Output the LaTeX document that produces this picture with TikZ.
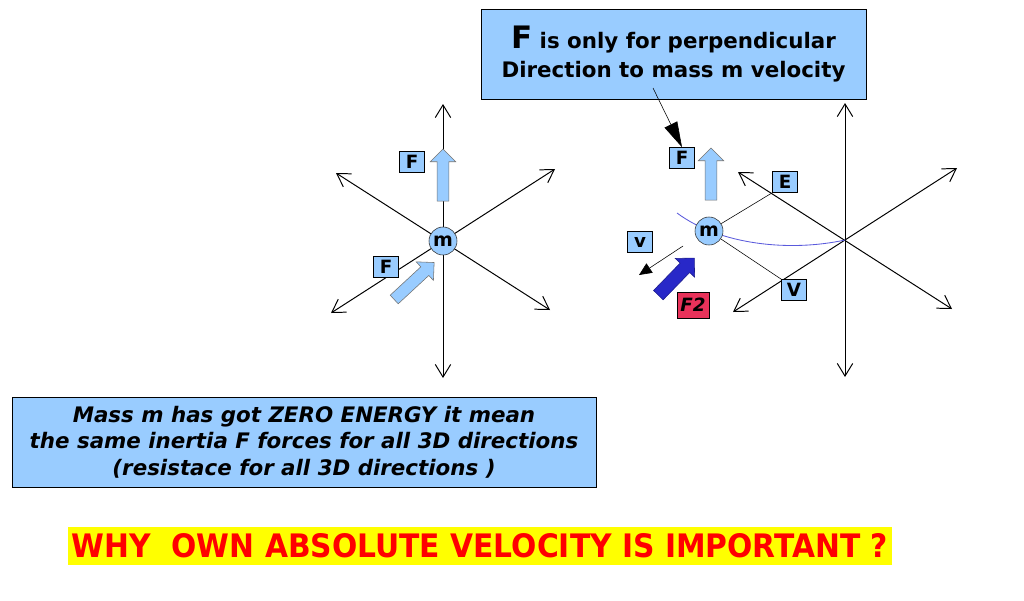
\documentclass[tikz,border=0pt]{standalone}
\usepackage{fontspec}
\setmainfont{DejaVu Sans}
\usepackage{graphicx}
\usetikzlibrary{
  arrows.meta,
  shapes.arrows,
  positioning
}
\definecolor{boxblue}{RGB}{153, 204, 255}
\definecolor{pushblue}{RGB}{40, 40, 200}
\definecolor{pathblue}{RGB}{90, 90, 220}
\definecolor{labred}{RGB}{232, 50, 90}
\definecolor{titlered}{RGB}{255, 0, 0}
\definecolor{titleyel}{RGB}{255, 255, 0}
\tikzset{
  % axes of the 3D directions
  axisline/.style = {line width=0.7pt, {Straight Barb[length=9pt,width=11pt]}-{Straight Barb[length=9pt,width=11pt]}},
  % mass and small labels
  mass/.style     = {circle, draw=black!80, fill=boxblue, minimum size=0.7cm, inner sep=0pt,
                     font=\bfseries\fontsize{13.5}{14}\selectfont},
  tag/.style      = {draw, fill=boxblue, minimum width=0.625cm, minimum height=0.525cm, inner sep=0pt,
                     font=\bfseries\fontsize{13}{14}\selectfont},
  % block arrows
  push/.style     = {single arrow, draw=black!55, fill=boxblue, inner xsep=0pt, inner ysep=0.14cm,
                     single arrow head extend=0.17cm, minimum height=1.3cm},
  pushdark/.style = {push, draw=pushblue!70!black, fill=pushblue, inner ysep=0.16cm,
                     single arrow head extend=0.17cm},
  % text boxes
  note/.style     = {draw, fill=boxblue, align=center, inner sep=0pt},
  thinline/.style = {line width=0.4pt},
}
\begin{document}
\begin{tikzpicture}[x=0.025cm, y=-0.025cm]
  \useasboundingbox (0,0) rectangle (1024,600);
  % Axes (left and right)
  \foreach \cx/\cy in {443/241, 845/240}{
    \begin{scope}[shift={(\cx,\cy)}]
      \draw[axisline] (0,-137) -- (0,137);
      \draw[axisline] (-107,-68) -- (107,69);
      \draw[axisline] (112,-72) -- (-112,72);
    \end{scope}
  }
  \coordinate (cR) at (845,240);
  % Path of the moving mass
  \coordinate (pathstart) at (677,213);
  \draw[pathblue, line width=0.6pt] (pathstart) .. controls (720,245) and (790,252) .. (cR);
  % Left: mass at rest
  \node[mass] (mL) at (443,241) {m};
  \node[tag] (FL1) at (412,162) {F};
  \node[tag] (FL2) at (386,267) {F};
  \node[push, rotate=90] (upL) at (443,178) {};
  \node[push, rotate=42.8, minimum height=1.36cm] (diagL) at (412,283) {};
  % Right: moving mass
  \node[mass] (mR) at (709,231) {m};
  \node[tag] (E) at (785,182) {E};
  \node[tag] (V2) at (794,290) {V};
  \draw[thinline] (mR) -- (E.south west);
  \draw[thinline] (mR) -- (V2.north west);
  \node[tag] (FR) at (682,158) {F};
  \node[push, rotate=90] (upR) at (711,177) {};
  \node[tag] (V1) at (640,242) {v};
  \coordinate (vfrom) at (683,246);
  \coordinate (vto) at (639,275);
  \draw[thinline, -{Triangle[length=9pt,width=8pt]}] (vfrom) -- (vto);
  \node[pushdark, rotate=45.8, minimum height=1.29cm] (F2arr) at (674,279) {};
  \node[tag, fill=labred, minimum width=0.8cm, minimum height=0.65cm,
        font=\bfseries\itshape\fontsize{13}{14}\selectfont] (F2) at (693,305) {F2};
  % Top note
  \node[note, minimum width=9.625cm, minimum height=2.25cm,
        font=\bfseries\fontsize{15.2}{20}\selectfont] (topnote) at (673.5,54)
    {{\fontsize{22}{20}\selectfont F} is only for perpendicular\\Direction to mass m velocity};
  \coordinate (notept) at (653,88);
  \draw[thinline, -{Triangle[length=18pt,width=10pt]}] (notept) -- (FR.north);
  % Bottom note
  \node[note, minimum width=14.6cm, minimum height=2.25cm,
        font=\bfseries\itshape\fontsize{15.2}{19}\selectfont] (zeronote) at (304,442)
    {Mass m has got ZERO ENERGY it mean\\the same inertia F forces for all 3D directions\\(resistace for all 3D directions )};
  % Title
  \node[fill=titleyel, minimum width=20.6cm, minimum height=0.95cm, inner sep=0pt,
        text=titlered, font=\bfseries\fontsize{23}{24}\selectfont] (title) at (480,546)
    {\scalebox{0.92}[1]{WHY\ \ OWN ABSOLUTE VELOCITY IS IMPORTANT ?}};
\end{tikzpicture}
\end{document}
